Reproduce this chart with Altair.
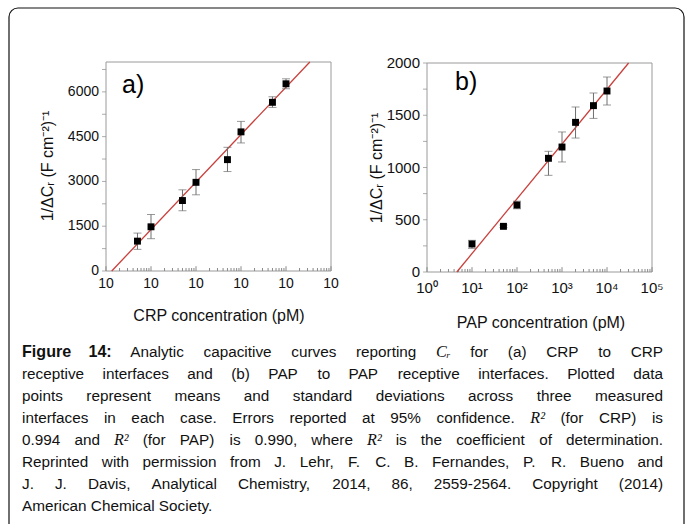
import altair as alt
import pandas as pd

# ---------------- data ----------------
A_X = [5, 10, 50, 100, 500, 1000, 5000, 10000]
A_Y = [1000, 1480, 2360, 2970, 3730, 4660, 5650, 6270]
A_LO = [725, 1082, 2018, 2552, 3331, 4289, 5479, 6104]
A_HI = [1270, 1893, 2719, 3397, 4143, 5011, 5836, 6437]
A_FIT_X = [1.34, 33900]
A_FIT_Y = [0, 7000]

B_X = [10, 50, 100, 500, 1000, 2000, 5000, 10000]
B_Y = [268, 437, 641, 1088, 1196, 1432, 1592, 1732]
B_LO = [226, 425, 605, 925, 1053, 1282, 1470, 1598]
B_HI = [303, 450, 678, 1155, 1340, 1579, 1713, 1866]
B_FIT_X = [4.6, 30200]
B_FIT_Y = [0, 2000]

DECADES = [1, 10, 100, 1000, 10000, 100000]
A_XLABELS = ["10", "10", "10", "10", "10", "10"]
B_XLABELS = ["10\u2070", "10\u00b9", "10\u00b2", "10\u00b3", "10\u2074", "10\u2075"]
A_YTICKS = [0, 750, 1500, 2250, 3000, 3750, 4500, 5250, 6000, 6750]
A_YLABELS = [0, 1500, 3000, 4500, 6000]
B_YTICKS = [0, 250, 500, 750, 1000, 1250, 1500, 1750, 2000]
B_YLABELS = [0, 500, 1000, 1500, 2000]
MINOR = [m * d for d in [1, 10, 100, 1000, 10000] for m in range(2, 10)]

Y_TITLE = "1/\u0394C\u1d63 (F cm\u207b\u00b2)\u207b\u00b9"

CAPTION_LINES = [
    "**Figure **14: Analytic capacitive curves reporting $C\u1d63 for (a) CRP to CRP",
    "receptive interfaces and (b) PAP to PAP receptive interfaces. Plotted data",
    "points represent means and standard deviations across three measured",
    "interfaces in each case. Errors reported at 95% confidence. $R\u00b2 (for CRP) is",
    "0.994 and $R\u00b2 (for PAP) is 0.990, where $R\u00b2 is the coefficient of determination.",
    "Reprinted with permission from J. Lehr, F. C. B. Fernandes, P. R. Bueno and",
    "J. J. Davis, Analytical Chemistry, 2014, 86, 2559-2564. Copyright (2014)",
    "American Chemical Society.",
]

FONT = "Liberation Sans"
AX_GREY = "#8a8a8a"
TXT = "#111111"

# ---------------- caption layout (Arial-compatible advance widths) ----------------
REG = dict(zip(" !%(),-.0123456789:;", [278, 278, 889, 333, 333, 278, 333, 278] + [556] * 10 + [278, 278]))
REG.update(dict(zip("ABCDEFGHIJKLMNOPQRSTUVWXYZ",
                    [667, 667, 722, 722, 667, 611, 778, 722, 278, 500, 667, 556, 833,
                     722, 778, 667, 778, 722, 667, 611, 722, 667, 944, 667, 667, 611])))
REG.update(dict(zip("abcdefghijklmnopqrstuvwxyz",
                    [556, 556, 500, 556, 556, 278, 556, 556, 222, 222, 500, 222, 833,
                     556, 556, 556, 556, 333, 500, 278, 556, 500, 722, 500, 500, 500])))
BOLD = dict(REG)
BOLD.update({"i": 278, "g": 611, "u": 611, "r": 389, ":": 333})

BASE = 15.3
LEFT, RIGHT = 22, 663
MIN_GAP = 3.6


def word_em(w, style):
    if style == "math":
        return 0.95
    tab = BOLD if style == "bold" else REG
    return sum(tab.get(c, 556) for c in w) / 1000


rows = []
for li, line in enumerate(CAPTION_LINES):
    words = []
    for tok in line.split(" "):
        if tok.startswith("**"):
            words.append((tok[2:], "bold"))
        elif tok.startswith("$"):
            words.append((tok[1:], "math"))
        else:
            words.append((tok, "normal"))
    ems = [word_em(w, s) for w, s in words]
    n_gaps = len(words) - 1
    size = BASE
    if li < len(CAPTION_LINES) - 1:
        size = min(BASE, (RIGHT - LEFT - n_gaps * MIN_GAP) / sum(ems))
        gap = (RIGHT - LEFT - sum(ems) * size) / n_gaps
    else:
        gap = 0.278 * size
    x = LEFT
    for (w, s), e in zip(words, ems):
        rows.append({"text": w, "style": s, "px": x, "py": 357 + 22 * li,
                     "fs": size + (0.8 if s != "normal" else 0)})
        x += e * size + gap
cap = pd.DataFrame(rows)


def panel(xs, ys, lo, hi, fx, fy, xr, yr, ydom, yticks, ylabels, xlabels,
          tick_h, lab_size, xlab_dy, panel_label, lab_pos, xtitle, xt_pos, yt_pos):
    df = pd.DataFrame({"x": xs, "y": ys, "lo": lo, "hi": hi})
    fit = pd.DataFrame({"x": fx, "y": fy})
    minor = pd.DataFrame({"m": MINOR})
    dec = pd.DataFrame({"v": DECADES, "lab": xlabels})
    ytk = pd.DataFrame({"v": yticks})
    ylb = pd.DataFrame({"v": ylabels})
    xs_ = alt.Scale(type="log", domain=[1, 100000], range=xr)
    ys_ = alt.Scale(domain=ydom, range=yr, nice=False, zero=False)

    def X(f):
        return alt.X(f, scale=xs_, axis=None)

    def Y(f):
        return alt.Y(f, scale=ys_, axis=None)

    x0 = alt.X(datum=1, type="quantitative", scale=xs_, axis=None)
    y0 = alt.Y(datum=ydom[0], type="quantitative", scale=ys_, axis=None)

    frame = alt.Chart(alt.Data(values=[{}])).mark_rect(
        fillOpacity=0, stroke="#9a9a9a", strokeWidth=1
    ).encode(x=x0, x2=alt.X2(datum=100000), y=y0, y2=alt.Y2(datum=ydom[1]))
    mticks = alt.Chart(minor).mark_rule(color=AX_GREY, strokeWidth=1).encode(
        x=X("m:Q"), y=y0, y2=alt.Y2(datum=tick_h))
    dticks = alt.Chart(dec).mark_rule(color=AX_GREY, strokeWidth=1).encode(
        x=X("v:Q"), y=y0, y2=alt.Y2(datum=tick_h * 1.6))
    xlab = alt.Chart(dec).mark_text(
        font=FONT, fontSize=lab_size, color=TXT, baseline="top", dy=xlab_dy
    ).encode(x=X("v:Q"), y=y0, text="lab:N")
    yticks_m = alt.Chart(ytk).mark_tick(
        color=AX_GREY, orient="horizontal", size=4, thickness=1, xOffset=-2
    ).encode(x=x0, y=Y("v:Q"))
    ylab = alt.Chart(ylb).mark_text(
        font=FONT, fontSize=lab_size, color=TXT, align="right", baseline="middle", dx=-7
    ).encode(x=x0, y=Y("v:Q"), text=alt.Text("v:Q", format="d"))
    xtitle_m = alt.Chart(alt.Data(values=[{"t": xtitle}])).mark_text(
        font=FONT, fontSize=16, color=TXT, baseline="middle"
    ).encode(text="t:N", x=alt.value(xt_pos[0]), y=alt.value(xt_pos[1]))
    ytitle_m = alt.Chart(alt.Data(values=[{"t": Y_TITLE}])).mark_text(
        font=FONT, fontSize=16, color=TXT, baseline="middle", angle=270
    ).encode(text="t:N", x=alt.value(yt_pos[0]), y=alt.value(yt_pos[1]))
    line = alt.Chart(fit).mark_line(color="#c8403c", strokeWidth=1.3).encode(
        x=X("x:Q"), y=Y("y:Q"))
    bars = alt.Chart(df).mark_rule(color="#6e6e6e", strokeWidth=1).encode(
        x=X("x:Q"), y=Y("lo:Q"), y2="hi:Q")
    cap_lo = alt.Chart(df).mark_tick(color="#6e6e6e", orient="horizontal", size=8, thickness=1).encode(
        x=X("x:Q"), y=Y("lo:Q"))
    cap_hi = alt.Chart(df).mark_tick(color="#6e6e6e", orient="horizontal", size=8, thickness=1).encode(
        x=X("x:Q"), y=Y("hi:Q"))
    pts = alt.Chart(df).mark_square(color="#000", opacity=1, size=48).encode(
        x=X("x:Q"), y=Y("y:Q"))
    lab = alt.Chart(alt.Data(values=[{"t": panel_label}])).mark_text(
        font=FONT, fontSize=25, align="left", baseline="middle", color="#000"
    ).encode(text="t:N", x=alt.value(lab_pos[0]), y=alt.value(lab_pos[1]))
    return alt.layer(frame, mticks, dticks, yticks_m, xlab, ylab, xtitle_m, ytitle_m,
                     line, bars, cap_lo, cap_hi, pts, lab)


H = 524
W = 685

pa = panel(A_X, A_Y, A_LO, A_HI, A_FIT_X, A_FIT_Y, [106, 331], [271, 62], [0, 7000],
           A_YTICKS, A_YLABELS, A_XLABELS, 100, 14, 6, "a)", (122, 85),
           "CRP concentration (pM)", (219, 316), (48, 166))
pb = panel(B_X, B_Y, B_LO, B_HI, B_FIT_X, B_FIT_Y, [427, 652], [272, 63], [0, 2000],
           B_YTICKS, B_YLABELS, B_XLABELS, 29, 15, 9, "b)", (455, 82),
           "PAP concentration (pM)", (541, 323), (377, 168))

border = alt.Chart(alt.Data(values=[{}])).mark_rect(
    fillOpacity=0, stroke="#111", strokeWidth=1.2, cornerRadius=9
).encode(x=alt.value(9), x2=alt.value(684), y=alt.value(8), y2=alt.value(600))


def cap_layer(style):
    sub = cap[cap["style"] == style]
    kw = dict(font=FONT, align="left", baseline="alphabetic", color=TXT)
    if style == "bold":
        kw.update(fontWeight="bold")
    if style == "math":
        kw.update(font="Liberation Serif", fontStyle="italic")
    return alt.Chart(sub).mark_text(**kw).encode(
        x=alt.X("px:Q", scale=None, axis=None),
        y=alt.Y("py:Q", scale=None, axis=None),
        size=alt.Size("fs:Q", scale=None, legend=None),
        text="text:N",
    )


caption = alt.layer(cap_layer("normal"), cap_layer("bold"), cap_layer("math"))

chart = alt.layer(pa, pb, border, caption).resolve_scale(
    x="independent", y="independent", size="independent"
).properties(
    width=W, height=H, padding=0, autosize=alt.AutoSizeParams(type="none"),
    background="white"
).configure_view(stroke=None)

chart.save("out.html", embed_options={"renderer": "svg", "actions": False})
